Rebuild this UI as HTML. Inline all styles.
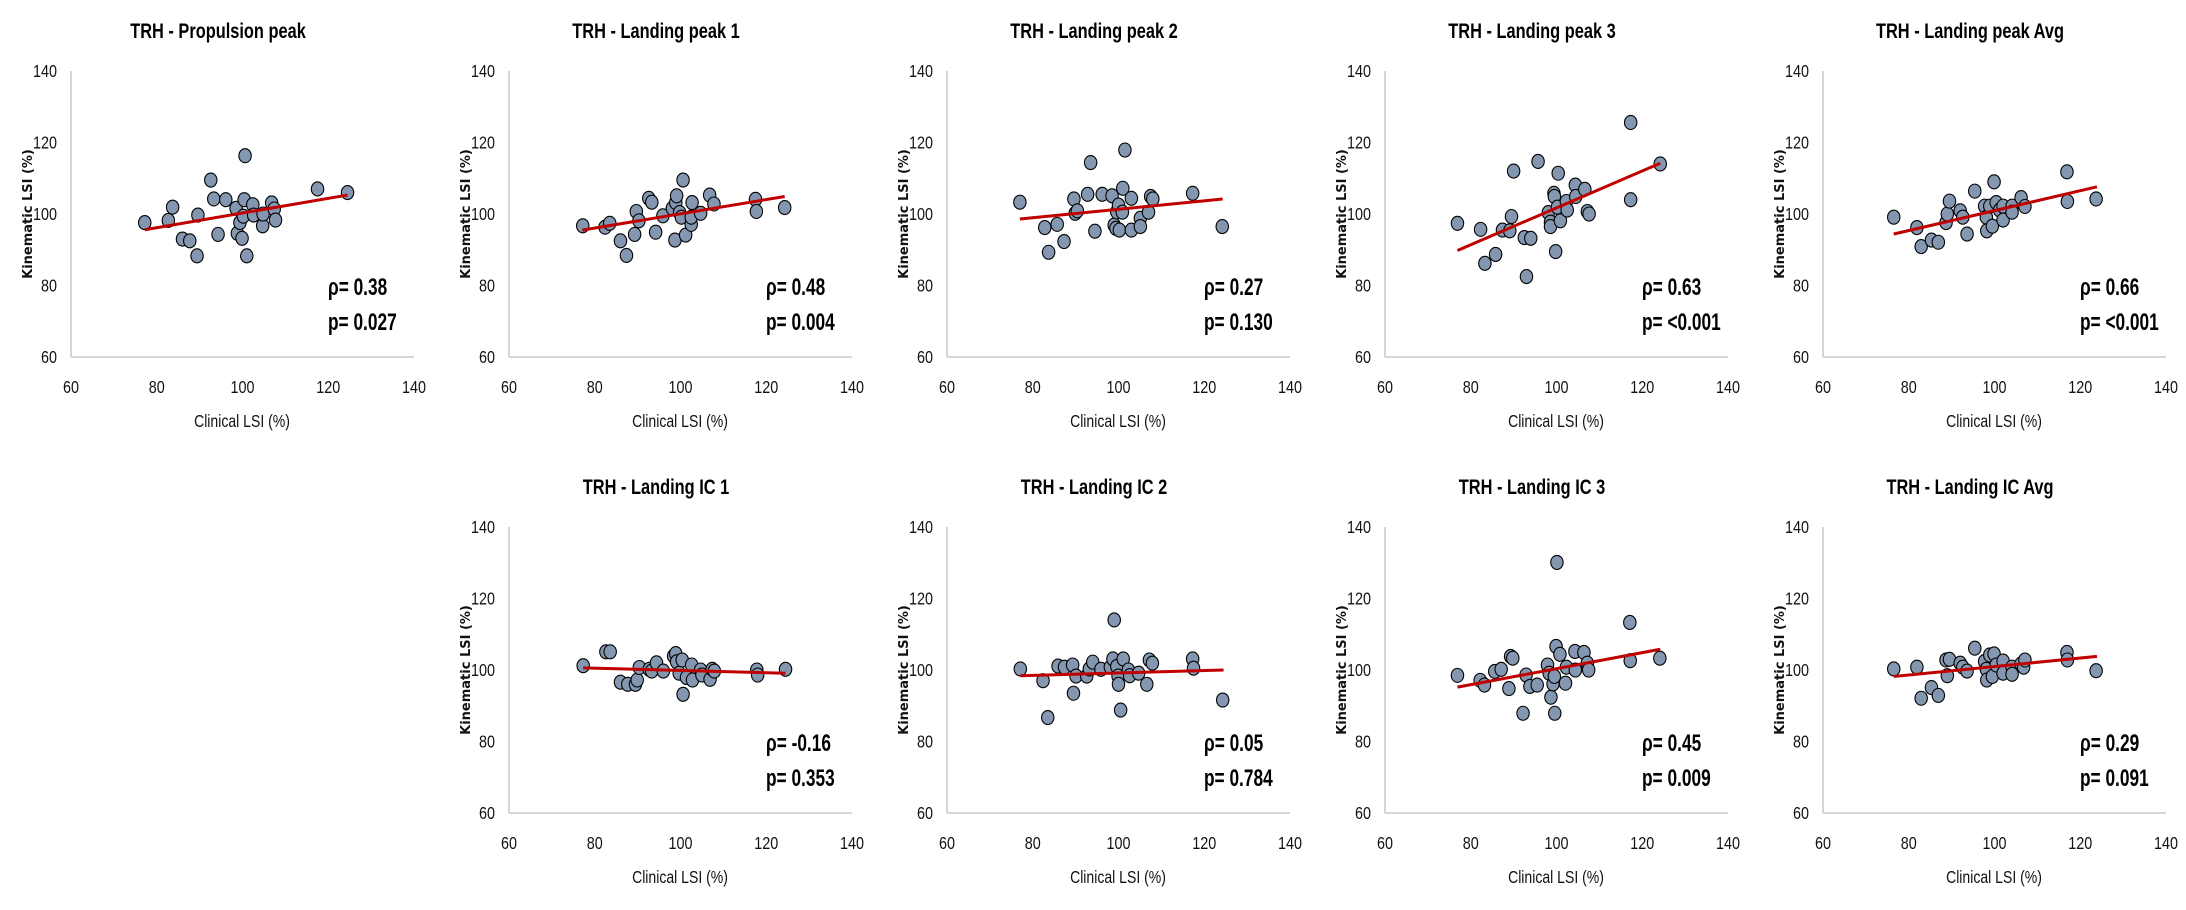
<!DOCTYPE html>
<html><head><meta charset="utf-8"><style>
html,body{margin:0;padding:0;background:#fff;width:2186px;height:910px;overflow:hidden}
svg{display:block}
</style></head><body>
<svg id="chart" width="2186" height="910" viewBox="0 0 2186 910" xmlns="http://www.w3.org/2000/svg"></svg>
<script>
const xTicks=[60,80,100,120,140];
const yTicks=[60,80,100,120,140];
const titles=["TRH - Propulsion peak","TRH - Landing peak 1","TRH - Landing peak 2","TRH - Landing peak 3","TRH - Landing peak Avg","TRH - Landing IC 1","TRH - Landing IC 2","TRH - Landing IC 3","TRH - Landing IC Avg"];
const rhoLabels=["ρ= 0.38","ρ= 0.48","ρ= 0.27","ρ= 0.63","ρ= 0.66","ρ= -0.16","ρ= 0.05","ρ= 0.45","ρ= 0.29"];
const pLabels=["p= 0.027","p= 0.004","p= 0.130","p= <0.001","p= <0.001","p= 0.353","p= 0.784","p= 0.009","p= 0.091"];
const panelCols=[0,1,2,3,4,1,2,3,4];
const panelRows=[0,0,0,0,0,1,1,1,1];
const trendLines=[[77.2,95.6,124.5,105.3],[77.1,95.5,124.3,104.9],[77.0,98.6,124.3,104.2],[76.9,89.8,124.2,114.2],[76.5,94.4,123.9,107.6],[77.3,100.6,124.5,99.1],[77.1,98.4,124.5,100.0],[76.9,95.2,124.2,105.8],[76.5,98.2,123.9,103.8]];
const pts0=[[77.2,97.6],[82.7,98.2],[83.7,101.9],[86.0,93.0],[87.7,92.5],[89.4,88.3],[89.6,99.7],[92.6,109.5],[93.3,104.2],[94.3,94.3],[96.1,104.0],[98.5,101.6],[98.8,94.6],[99.9,93.2],[99.4,97.6],[100.2,99.4],[100.4,104.0],[100.6,116.3],[101.0,88.3],[102.4,102.6],[102.6,99.7],[104.7,96.7],[104.8,100.0],[106.8,103.1],[107.4,101.4],[107.7,98.3],[117.5,107.0],[124.5,106.0]];
const pts1=[[77.2,96.7],[82.4,96.3],[83.5,97.4],[86.0,92.5],[87.4,88.4],[89.3,94.3],[89.7,100.7],[90.3,98.1],[92.6,104.4],[93.3,103.3],[94.2,94.9],[95.9,99.5],[98.7,92.7],[98.1,101.6],[98.9,103.2],[99.1,105.1],[99.8,100.4],[100.2,99.1],[100.6,109.5],[101.2,94.1],[102.5,97.1],[102.7,103.2],[102.5,99.1],[104.7,100.2],[106.8,105.3],[107.8,102.8],[117.5,104.1],[117.7,100.7],[124.3,101.8]];
const pts2=[[77.0,103.3],[82.8,96.2],[83.7,89.3],[85.7,97.1],[87.3,92.3],[89.6,104.2],[89.9,100.2],[90.4,100.9],[92.8,105.5],[93.5,114.4],[94.5,95.2],[96.2,105.5],[98.5,105.1],[99.0,96.9],[99.4,96.0],[99.6,100.6],[100.0,102.5],[100.2,95.5],[100.9,100.5],[101.0,107.2],[101.5,117.9],[103.0,104.4],[103.0,95.5],[105.1,98.8],[105.1,96.5],[107.0,100.5],[107.5,104.9],[108.0,104.2],[117.3,105.8],[124.2,96.5]];
const pts3=[[76.9,97.4],[82.3,95.7],[83.3,86.2],[85.8,88.7],[87.4,95.5],[89.1,95.3],[89.5,99.3],[90.0,112.0],[92.5,93.4],[94.0,93.2],[93.0,82.5],[95.7,114.7],[98.1,100.4],[98.6,97.7],[98.6,96.5],[99.4,105.8],[99.5,104.9],[99.8,89.5],[100.2,101.9],[100.4,111.4],[100.9,98.1],[102.3,103.5],[102.5,101.1],[104.4,108.1],[104.5,104.9],[106.6,106.9],[107.2,100.7],[107.6,100.0],[117.3,125.6],[117.3,104.0],[124.2,114.0]];
const pts4=[[76.5,99.1],[81.9,96.2],[82.9,90.9],[85.3,92.7],[86.9,92.1],[88.7,97.6],[89.0,100.0],[89.5,103.6],[92.0,100.9],[92.6,99.1],[93.6,94.4],[95.4,106.4],[97.7,102.2],[98.1,99.1],[98.2,95.3],[98.9,102.2],[99.5,96.6],[99.9,109.0],[100.4,103.2],[101.2,101.1],[102.0,102.2],[102.0,98.3],[104.1,102.2],[104.1,100.5],[106.2,104.6],[107.1,102.1],[116.9,111.8],[117.0,103.5],[123.7,104.2]];
const pts5=[[77.3,101.2],[82.6,105.1],[83.6,105.1],[86.0,96.6],[87.7,96.0],[89.5,96.0],[89.9,97.2],[90.4,100.7],[92.7,100.2],[93.3,99.7],[94.4,102.0],[96.0,99.7],[98.4,103.9],[98.9,104.6],[99.1,102.3],[99.7,99.1],[100.4,102.8],[100.6,93.2],[101.4,97.9],[102.6,101.4],[102.8,97.2],[104.7,100.0],[105.0,98.6],[106.9,97.4],[107.4,100.2],[107.9,99.7],[117.8,100.0],[118.0,98.6],[124.5,100.2]];
const pts6=[[77.1,100.3],[82.4,97.0],[83.5,86.7],[85.9,101.1],[87.4,100.8],[89.3,101.4],[89.5,93.5],[90.1,98.3],[92.6,98.3],[93.2,100.3],[94.0,102.2],[95.9,100.2],[98.1,100.8],[98.7,103.1],[99.0,114.0],[99.6,101.0],[99.9,98.3],[100.0,96.0],[100.5,88.8],[101.1,103.1],[102.3,100.0],[102.6,98.4],[104.7,99.1],[106.6,96.0],[107.2,102.8],[107.9,101.9],[117.3,103.1],[117.5,100.5],[124.3,91.6]];
const pts7=[[76.9,98.5],[82.2,97.1],[83.2,95.8],[85.6,99.6],[87.1,100.2],[88.9,94.8],[89.3,103.8],[89.8,103.3],[92.2,87.9],[92.9,98.6],[93.8,95.4],[95.5,95.8],[97.9,101.4],[98.3,99.1],[98.7,92.4],[99.2,96.1],[99.5,98.2],[99.6,87.9],[99.9,106.6],[100.1,130.1],[100.8,104.4],[102.1,96.3],[102.3,100.8],[104.3,105.2],[104.4,100.0],[106.4,104.9],[107.2,101.9],[107.5,100.0],[117.1,113.3],[117.2,102.6],[124.1,103.3]];
const pts8=[[76.5,100.3],[81.9,100.8],[82.9,92.1],[85.3,95.1],[86.9,92.9],[88.7,102.8],[89.5,103.0],[89.0,98.4],[92.0,101.9],[92.6,100.8],[93.6,99.7],[95.4,106.1],[97.7,102.4],[98.1,100.2],[98.2,97.2],[98.9,104.2],[99.5,98.2],[99.9,104.5],[100.4,101.4],[102.0,102.5],[102.0,99.1],[104.1,100.8],[104.1,98.8],[106.2,101.7],[106.8,100.8],[107.1,102.8],[116.9,104.9],[117.0,102.8],[123.7,99.8]];
const allPoints=[pts0,pts1,pts2,pts3,pts4,pts5,pts6,pts7,pts8];

const NS="http://www.w3.org/2000/svg";
const svg=document.getElementById('chart');
const PW=343, PH=286;
function mk(tag,attrs,parent,text){const e=document.createElementNS(NS,tag);for(const k in attrs)e.setAttribute(k,attrs[k]);if(text!==undefined)e.textContent=text;parent.appendChild(e);return e;}
const tf='"Liberation Sans", Arial, sans-serif';
titles.forEach((title,i)=>{
  const ax=71+438*panelCols[i], top=71+456*panelRows[i], bot=top+PH;
  const xs=v=>ax+(v-60)/80*PW;
  const ys=v=>bot-(v-60)/80*PH;
  const g=mk('g',{},svg);
  
  
  const t=mk('text',{transform:`translate(${ax+147},${top-33}) scale(0.78,1)`,'text-anchor':'middle','font-family':tf,'font-weight':'bold','font-size':21,fill:'#000'},g,title);
  
  
  const ya=mk('line',{x1:ax,y1:top,x2:ax,y2:bot,stroke:'#bfbfbf','stroke-width':1.3},g);
  
  
  const xa=mk('line',{x1:ax,y1:bot,x2:ax+PW,y2:bot,stroke:'#bfbfbf','stroke-width':1.3},g);
  
  
  yTicks.forEach(v=>{
    const l=mk('text',{transform:`translate(${ax-14},${ys(v)+6}) scale(0.8,1)`,'text-anchor':'end','font-family':tf,'font-size':18,fill:'#111'},g,String(v));
    
    
  });
  xTicks.forEach(v=>{
    const l=mk('text',{transform:`translate(${xs(v)},${bot+36}) scale(0.8,1)`,'text-anchor':'middle','font-family':tf,'font-size':18,fill:'#111'},g,String(v));
    
    
  });
  const xt=mk('text',{transform:`translate(${ax+171},${bot+70}) scale(0.78,1)`,'text-anchor':'middle','font-family':tf,'font-size':18,fill:'#111'},g,'Clinical LSI (%)');
  
  
  const yt=mk('text',{transform:`translate(${ax-39},${top+143}) rotate(-90)`,'text-anchor':'middle','font-family':'"DejaVu Sans", sans-serif','font-weight':'bold','font-size':13,fill:'#111'},g,'Kinematic LSI (%)');
  
  
  allPoints[i].forEach(p=>{
    const c=mk('ellipse',{cx:xs(p[0]),cy:ys(p[1]),rx:6.2,ry:7,fill:'#8497b0',stroke:'#000','stroke-width':1.1},g);
    
    
  });
  const L=trendLines[i];
  const tl=mk('line',{x1:xs(L[0]),y1:ys(L[1]),x2:xs(L[2]),y2:ys(L[3]),stroke:'#c00000','stroke-width':3},g);
  
  
  const r=mk('text',{transform:`translate(${ax+257},${top+224}) scale(0.72,1)`,'font-family':tf,'font-weight':'bold','font-size':24,fill:'#000'},g,rhoLabels[i]);
  
  
  const pl=mk('text',{transform:`translate(${ax+257},${top+259}) scale(0.72,1)`,'font-family':tf,'font-weight':'bold','font-size':24,fill:'#000'},g,pLabels[i]);
  
  
});
</script>
</body></html>
